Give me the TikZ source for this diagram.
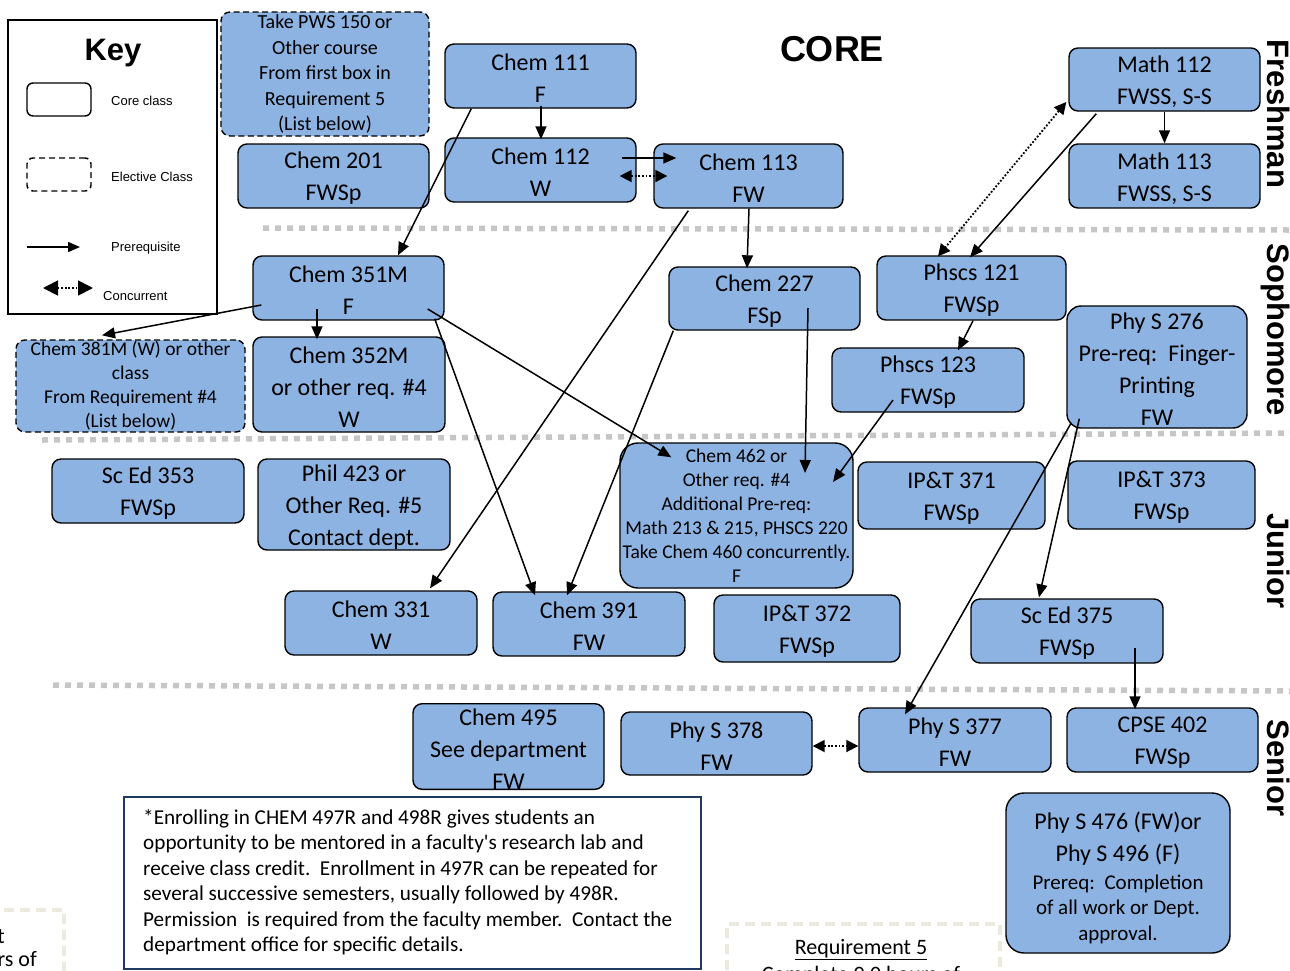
\documentclass[tikz,border=0pt]{standalone}
\usepackage{fontspec}
\setmainfont{Carlito}
\newfontfamily\arialf{Liberation Sans}
\usetikzlibrary{arrows.meta,calc}
\definecolor{boxblue}{RGB}{141,179,226}
\definecolor{sepgray}{RGB}{198,198,198}
\definecolor{navyb}{RGB}{31,56,100}
\definecolor{beigeb}{RGB}{236,234,222}
\newcommand\fbig{\fontsize{24}{32}\selectfont}
\newcommand\fmid{\fontsize{20}{25.5}\selectfont}
\newcommand\fsml{\fontsize{19.5}{24}\selectfont}
\newcommand\fsub{\fontsize{21}{25}\selectfont}
\tikzset{
  cls/.style={draw=black, line width=1.4pt, fill=boxblue, rounded corners=9pt, inner sep=0pt, align=center, font=\fbig},
  elect/.style={cls, dash pattern=on 6pt off 3.5pt},
  pre/.style={line width=1.5pt, -{Triangle[length=13pt,width=11pt]}},
  conc/.style={line width=1.8pt, dash pattern=on 1.8pt off 1.8pt, {Triangle[length=12pt,width=12pt]}-{Triangle[length=12pt,width=12pt]}},
  sepline/.style={sepgray, line width=5.5pt, dash pattern=on 6pt off 6pt},
  keytxt/.style={font=\arialf\fontsize{13}{15}\selectfont, anchor=west, inner sep=0pt},
  yearlbl/.style={font=\arialf\bfseries\fontsize{31}{36}\selectfont, rotate=-90, anchor=base, inner sep=0pt},
}
\newcommand\up{\rule{0pt}{0.9em}}
\begin{document}
\begin{tikzpicture}[x=1pt,y=-1pt]
\useasboundingbox (0,0) rectangle (1290,970);
\begin{scope}
\clip (0,0) rectangle (1290,970);
\fill[white] (0,0) rectangle (1290,970);

% separators
\draw[sepline] (263,228) -- (1290,230);
\draw[sepline] (42,440) -- (1290,433);
\draw[sepline] (53,685) -- (1290,691);

% title and year labels
\node[font=\arialf\bfseries\fontsize{36}{40}\selectfont, inner sep=0pt] (core) at (832,49) {CORE};
\node[yearlbl] (fresh) at (1267,114) {Freshman};
\node[yearlbl] (soph) at (1267,330) {Sophomore};
\node[yearlbl] (jun) at (1267,561) {Junior};
\node[yearlbl] (sen) at (1267,768) {Senior};

% key
\node[draw, line width=2pt, minimum width=209pt, minimum height=294pt, inner sep=0pt] (keybox) at (112.5,167) {};
\node[font=\arialf\bfseries\fontsize{31}{34}\selectfont, inner sep=0pt] (keyt) at (113,53) {Key};
\node[draw, line width=1.4pt, rounded corners=6pt, minimum width=64pt, minimum height=33pt, inner sep=0pt] (keycore) at (59,99.5) {};
\node[keytxt] (keycoret) at (111,101) {Core class};
\node[draw, line width=1.4pt, rounded corners=6pt, dash pattern=on 6pt off 4pt, minimum width=64pt, minimum height=33pt, inner sep=0pt] (keyel) at (59,174.5) {};
\node[keytxt] (keyelt) at (111,177) {Elective Class};
\coordinate (kp1) at (27,247);
\coordinate (kp2) at (80,247);
\draw[pre, -{Triangle[length=12pt,width=10pt]}] (kp1) -- (kp2);
\node[keytxt] (keyprt) at (111,248) {Prerequisite};
\coordinate (kc1) at (43,288);
\coordinate (kc2) at (93,288);
\draw[line width=1.8pt, dash pattern=on 1.8pt off 1.8pt, {Triangle[length=15pt,width=15pt]}-{Triangle[length=15pt,width=15pt]}] (kc1) -- (kc2);
\node[keytxt] (keyct) at (103,296) {Concurrent};

% boxes
\node[elect, font=\fmid, minimum width=208pt, minimum height=124pt] (pws) at (325,74) {Take PWS 150 or\\Other course\\From first box in\\Requirement 5\\(List below)};
\node[cls, minimum width=191pt, minimum height=64pt] (chem111) at (540.5,76) {\up Chem 111\\F};
\node[cls, minimum width=191pt, minimum height=64pt] (chem201) at (333.5,176) {\up Chem 201\\FWSp};
\node[cls, minimum width=191pt, minimum height=64pt] (chem112) at (540.5,170) {\up Chem 112\\W};
\node[cls, minimum width=189pt, minimum height=64pt] (chem113) at (748.5,176) {\up Chem 113\\FW};
\node[cls, minimum width=191pt, minimum height=63pt] (math112) at (1164.5,79.5) {\up Math 112\\FWSS, S-S};
\node[cls, minimum width=191pt, minimum height=64pt] (math113) at (1164.5,176) {\up Math 113\\FWSS, S-S};
\node[cls, minimum width=191pt, minimum height=64pt] (chem351) at (348.5,288) {\up Chem 351M\\F};
\node[cls, minimum width=191pt, minimum height=63pt] (chem227) at (764.5,298.5) {\up Chem 227\\FSp};
\node[cls, minimum width=189pt, minimum height=64pt] (phscs121) at (971.5,288) {\up Phscs 121\\FWSp};
\node[cls, minimum width=192pt, minimum height=64pt] (phscs123) at (928,380) {\up Phscs 123\\FWSp};
\node[cls, rounded corners=14pt, minimum width=180pt, minimum height=122pt] (phy276) at (1157,367) {\up Phy S 276\\Pre-req:\ \ Finger-\\Printing\\FW};
\node[elect, font=\fsml, minimum width=229pt, minimum height=92pt] (chem381) at (130.5,386) {Chem 381M (W) or other\\class\\From Requirement \#4\\(List below)};
\node[cls, minimum width=192pt, minimum height=95pt] (chem352) at (349,384.5) {\up Chem 352M\\or other req. \#4\\W};
\node[cls, minimum width=192pt, minimum height=64pt] (sced353) at (148,491) {\up Sc Ed 353\\FWSp};
\node[cls, minimum width=192pt, minimum height=91pt] (phil423) at (354,504.5) {\up Phil 423 or\\Other Req. \#5\\Contact dept.};
\node[cls, font=\fsml, rounded corners=18pt, minimum width=233pt, minimum height=145pt] (chem462) at (736.5,515.5) {Chem 462 or\\Other req. \#4\\Additional Pre-req:\\Math 213 \& 215, PHSCS 220\\Take Chem 460 concurrently.\\F};
\node[cls, minimum width=187pt, minimum height=67pt] (ipt371) at (951.5,495.5) {\up IP\&T 371\\FWSp};
\node[cls, minimum width=187pt, minimum height=68pt] (ipt373) at (1161.5,495) {\up IP\&T 373\\FWSp};
\node[cls, minimum width=192pt, minimum height=64pt] (chem331) at (381,623) {\up Chem 331\\W};
\node[cls, minimum width=192pt, minimum height=64pt] (chem391) at (589,624) {\up Chem 391\\FW};
\node[cls, minimum width=186pt, minimum height=67pt] (ipt372) at (807,628.5) {\up IP\&T 372\\FWSp};
\node[cls, minimum width=192pt, minimum height=64pt] (sced375) at (1067,631) {\up Sc Ed 375\\FWSp};
\node[cls, minimum width=191pt, minimum height=85pt] (chem495) at (508.5,746.5) {\up Chem 495\\See department\\FW};
\node[cls, minimum width=191pt, minimum height=63pt] (phy378) at (716.5,743.5) {\up Phy S 378\\FW};
\node[cls, minimum width=192pt, minimum height=64pt] (phy377) at (955,740) {\up Phy S 377\\FW};
\node[cls, minimum width=191pt, minimum height=64pt] (cpse402) at (1162.5,740) {\up CPSE 402\\FWSp};
\node[cls, rounded corners=18pt, minimum width=224pt, minimum height=160pt] (phy476) at (1118,873) {\rule{0pt}{1.15em}Phy S 476 (FW)or\\Phy S 496 (F)\\[-4pt] \fsub Prereq:\ \ Completion\\[-7pt] \fsub of all work or Dept.\\[-6pt] \fsub approval.};

% note box
\node[draw=navyb, line width=1.6pt, minimum width=577pt, minimum height=172pt, inner sep=0pt, anchor=north west] (note) at (123,796) {};
\node[font=\fontsize{21.2}{25.5}\selectfont, align=left, inner sep=0pt, anchor=north west] (notet) at (143,809) {*Enrolling in CHEM 497R and 498R gives students an\\opportunity to be mentored in a faculty\textquotesingle s research lab and\\receive class credit.\ \ Enrollment in 497R can be repeated for\\several successive semesters, usually followed by 498R.\\Permission\ \ is required from the faculty member.\ \ Contact the\\department office for specific details.};

% requirement 5 box (cut off)
\node[draw=beigeb, line width=4pt, dash pattern=on 10pt off 6pt, minimum width=273pt, minimum height=90pt, inner sep=0pt, anchor=north west] (req5) at (725,922) {};
\node[font=\fontsize{22}{26}\selectfont, inner sep=0pt, anchor=base] (req5t) at (861,954) {\underline{Requirement 5}};
\node[font=\fontsize{22}{26}\selectfont, inner sep=0pt, anchor=base] (req5l) at (861,981) {Complete 9.0 hours of};

% bottom-left box (cut off)
\node[draw=beigeb, line width=4pt, dash pattern=on 10pt off 6pt, minimum width=90pt, minimum height=100pt, inner sep=0pt, anchor=north east] (leftbox) at (66,908) {};
\node[font=\fontsize{22}{26}\selectfont, inner sep=0pt, anchor=base east] (lt1) at (5,943) {t};
\node[font=\fontsize{22}{26}\selectfont, inner sep=0pt, anchor=base east] (lt2) at (37,966) {rs of};

% connectors
\draw[pre] ($(chem111.south)+(0.5,-3)$) -- ($(chem112.north)+(0.5,2)$);
\draw[pre] ($(chem111.south west)+(27,0)$) -- ($(chem351.north)+(49.5,0)$);
\draw[pre] ($(chem112.east)+(-15,-12)$) -- ($(chem113.west)+(23,-18)$);
\draw[conc] ($(chem112.east)+(-17,6)$) -- ($(chem113.west)+(14,0)$);
\draw[pre] ($(chem113.south)+(0.5,0)$) -- ($(chem227.north)+(-17.5,2)$);
\draw[pre] ($(chem113.south west)+(35,2)$) -- ($(chem331.north)+(49,-2)$);
\draw[pre] ($(chem227)+(43.5,9.5)$) -- ($(chem462)+(68.5,-42.5)$);
\draw[pre] ($(chem227.south west)+(5,0)$) -- ($(chem391.north)+(-22,4)$);
\draw[pre] (math112.south) -- (math113.north);
\draw[pre] ($(math112.south west)+(28,2)$) -- ($(phscs121.north)+(-1.5,2)$);
\draw[conc] ($(math112.west)+(-2,22.5)$) -- ($(phscs121.north)+(-33.5,1)$);
\draw[pre] ($(phscs121.south)+(1.5,0)$) -- ($(phscs123.north)+(30,3)$);
\draw[pre] ($(phscs123)+(-35,20)$) -- ($(chem462)+(96.5,-33.5)$);
\draw[pre] ($(chem351)+(-31.5,21)$) -- ($(chem352.north)+(-32,3)$);
\draw[pre] ($(chem351.west)+(9,17)$) -- ($(chem381.north)+(-28.5,-4)$);
\draw[pre] ($(chem351.east)+(-17,21)$) -- ($(chem462.north west)+(52,15)$);
\draw[pre] ($(chem351.south east)+(-10,-2)$) -- ($(chem391.north)+(-54,4)$);
\draw[pre] ($(phy276.south west)+(13,-10)$) -- ($(sced375.north)+(-28,-1)$);
\draw[pre] ($(phy276.south west)+(5,-6)$) -- ($(phy377.north)+(-50,7)$);
\draw[pre] ($(sced375)+(68,17)$) -- ($(cpse402.north)+(-27.5,2)$);
\draw[conc] ($(phy378.east)+(0,2.5)$) -- ($(phy377.west)+(0,6)$);
\end{scope}
\end{tikzpicture}
\end{document}
